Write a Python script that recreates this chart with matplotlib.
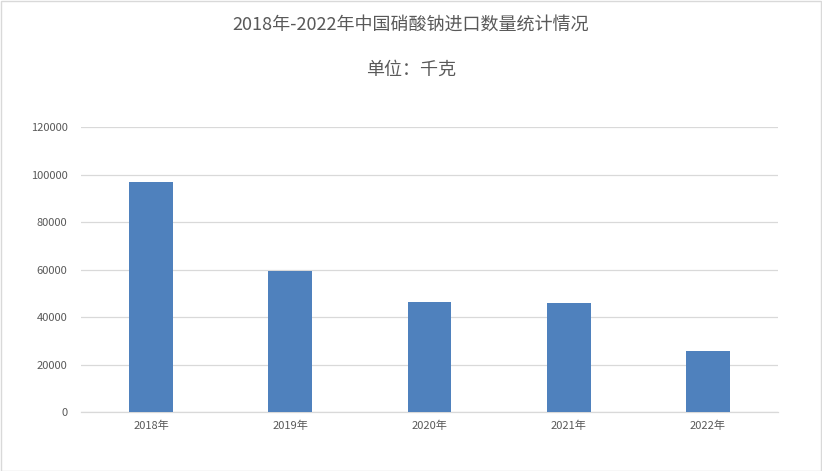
import matplotlib
matplotlib.use("Agg")
import matplotlib.pyplot as plt
from matplotlib.patches import Rectangle

plt.rcParams["font.family"] = ["Noto Sans CJK SC", "DejaVu Sans"]

years = ["2018年", "2019年", "2020年", "2021年", "2022年"]
values = [97000, 59500, 46500, 46000, 25800]
yticks = [0, 20000, 40000, 60000, 80000, 100000, 120000]

title = "2018年-2022年中国硝酸钠进口数量统计情况"
subtitle = "单位：千克"

fig = plt.figure(figsize=(8.22, 4.71), dpi=100)
ax = fig.add_axes([0.0991, 0.1246, 0.8469, 0.6051])

x = range(len(years))
ax.bar(x, values, width=0.315, color="#4f81bd", zorder=3)

ax.set_xlim(-0.5, len(years) - 0.5)
ax.set_ylim(0, 120000)
ax.set_yticks(yticks)
ax.set_yticklabels([str(v) for v in yticks])
ax.set_xticks(list(x))
ax.set_xticklabels(years)
ax.yaxis.grid(True, color="#d9d9d9", linewidth=0.9, zorder=0)
ax.axhline(0, color="#d9d9d9", linewidth=0.9, zorder=2, clip_on=False)
ax.tick_params(axis="both", length=0, labelsize=8, colors="#595959")
ax.tick_params(axis="y", pad=10)
ax.tick_params(axis="x", pad=6)
for sp in ax.spines.values():
    sp.set_visible(False)

fig.text(0.5, 1 - 25 / 471, title, ha="center", va="center", fontsize=13, color="#595959")
fig.text(0.5, 1 - 70 / 471, subtitle, ha="center", va="center", fontsize=13, color="#595959")

fig.patches.append(Rectangle((0.001, 0.001), 0.998, 0.997, transform=fig.transFigure,
                             fill=False, edgecolor="#d9d9d9", linewidth=1))

fig.savefig("out.png", dpi=100)
